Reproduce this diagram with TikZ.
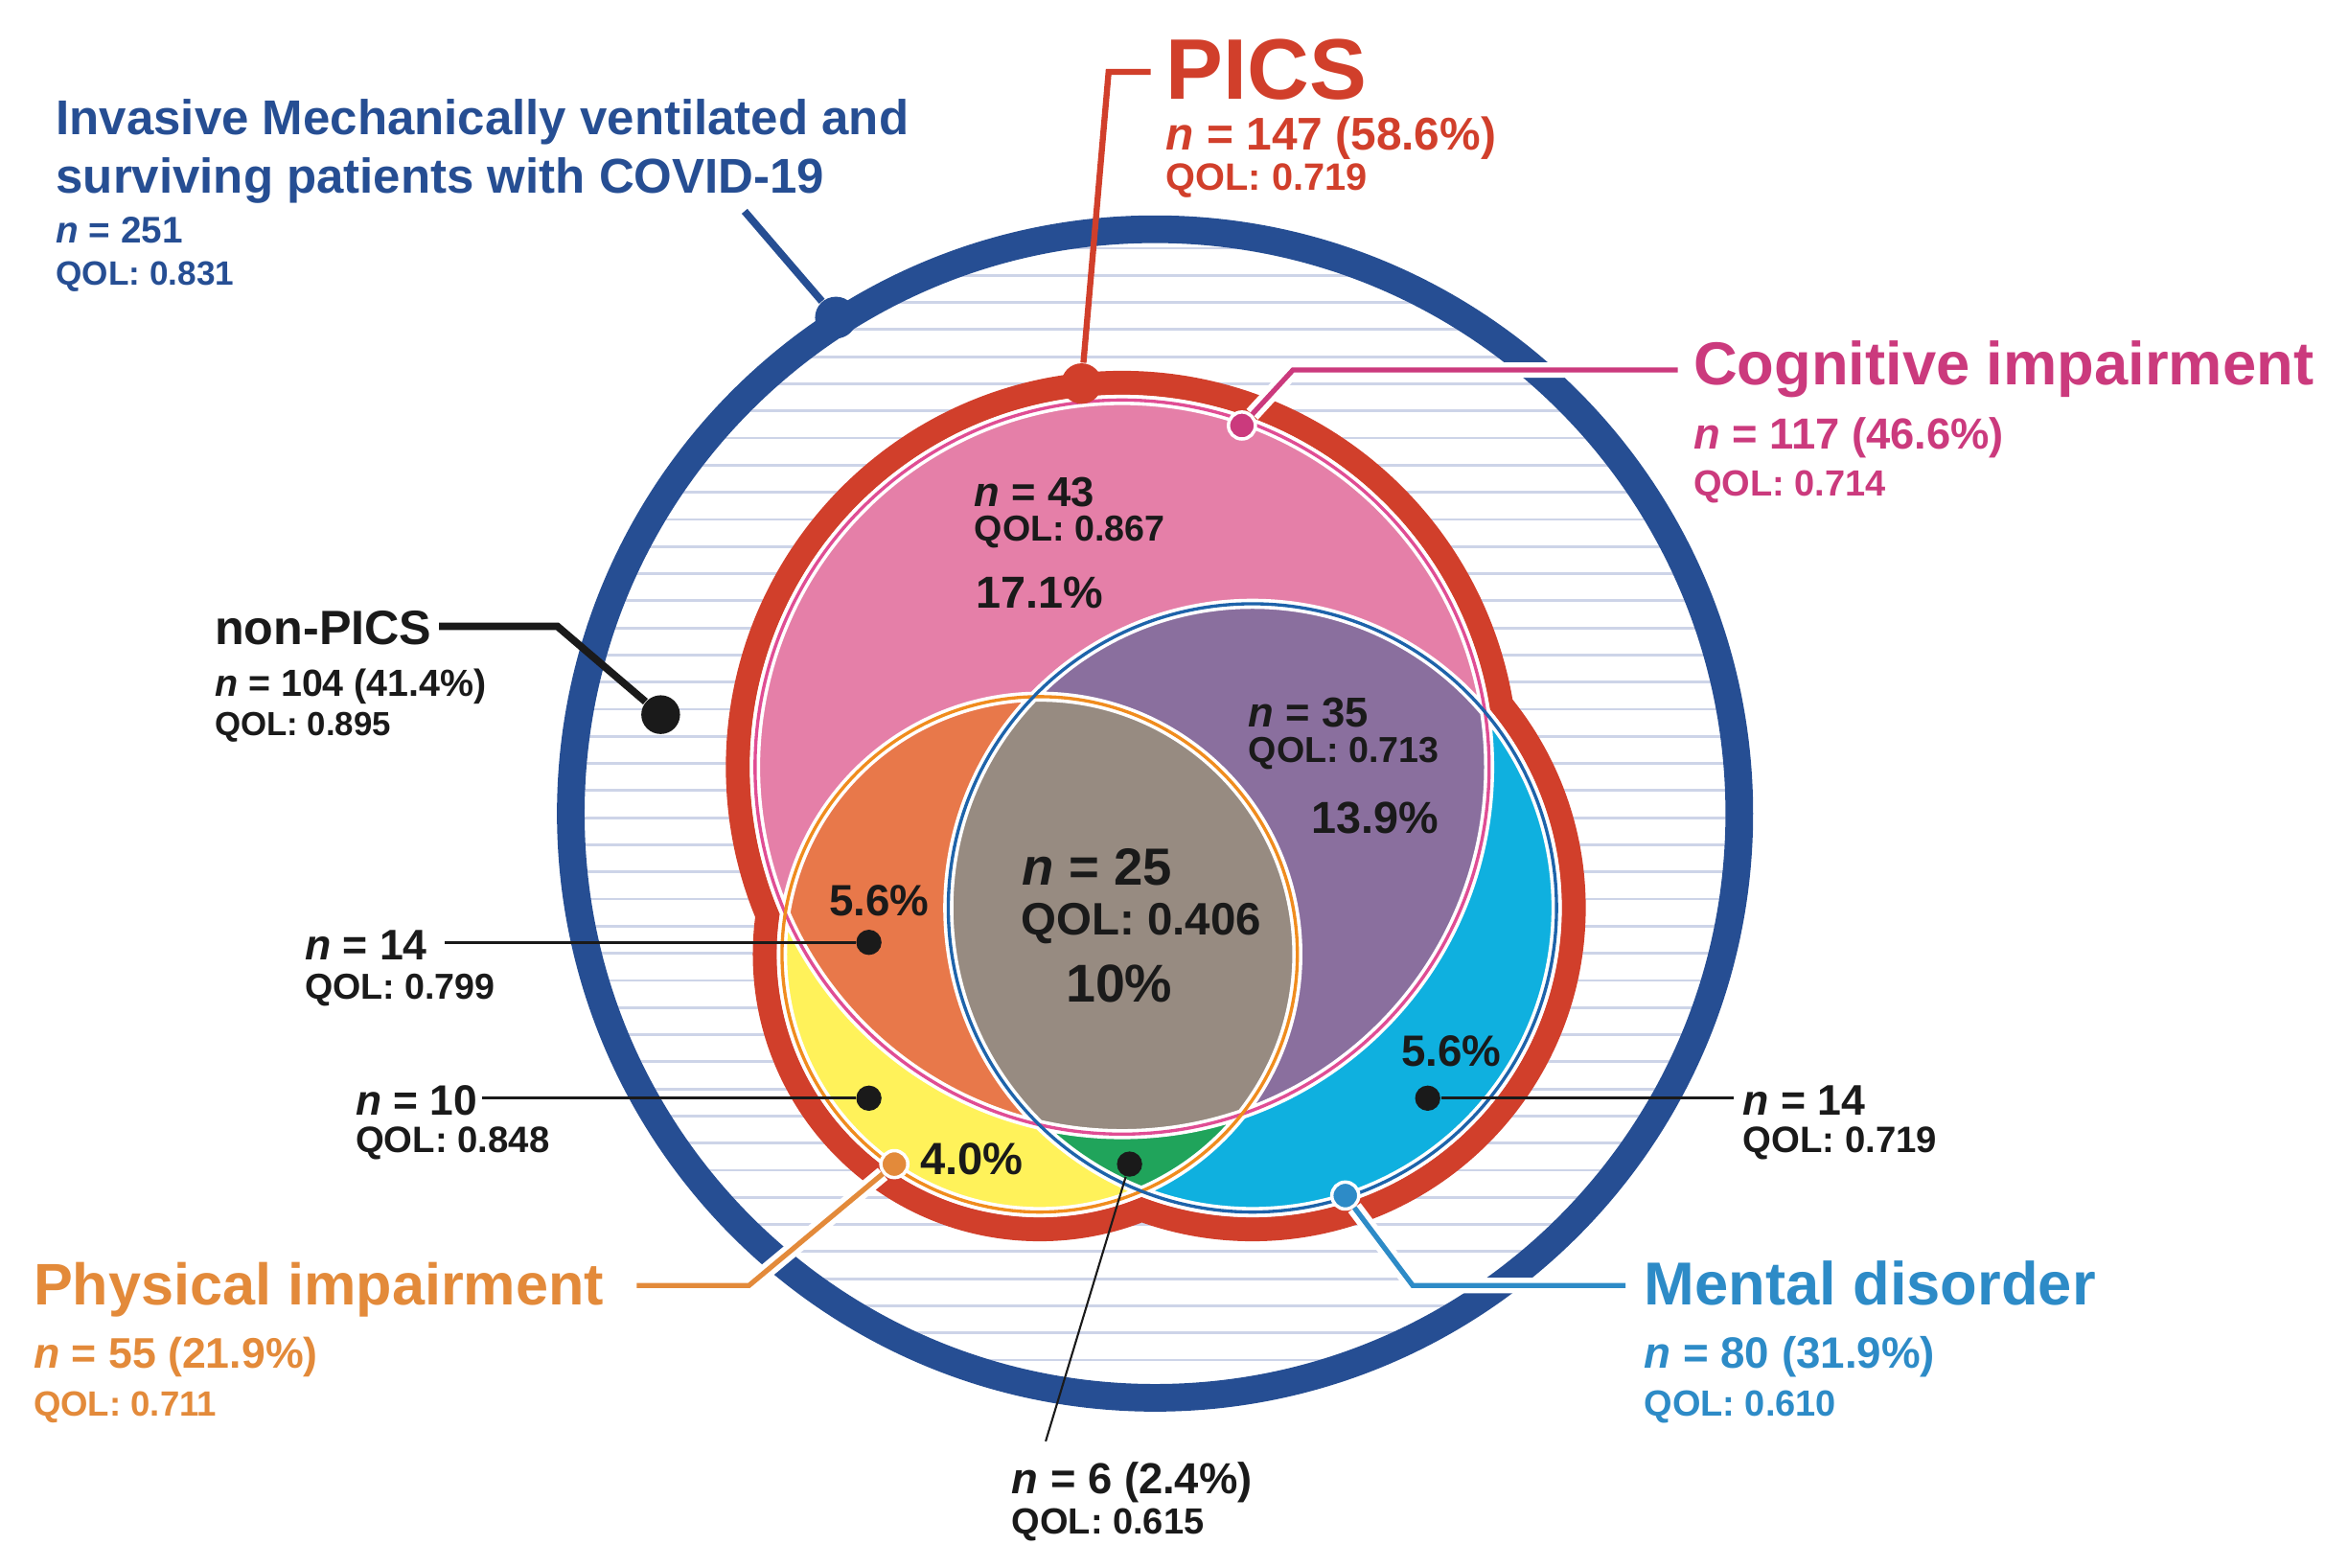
\documentclass[tikz,border=0pt]{standalone}
\usepackage{fontspec}
\setmainfont{Liberation Sans}
\definecolor{navy}{RGB}{38,78,147}
\definecolor{picsred}{RGB}{209,63,43}
\definecolor{cogtxt}{RGB}{203,58,125}
\definecolor{cogline}{RGB}{224,77,148}
\definecolor{cogfill}{RGB}{229,127,168}
\definecolor{phytxt}{RGB}{227,138,58}
\definecolor{phyline}{RGB}{240,140,30}
\definecolor{phyfill}{RGB}{232,120,74}
\definecolor{yel}{RGB}{255,242,90}
\definecolor{mentxt}{RGB}{45,139,199}
\definecolor{menline}{RGB}{30,99,170}
\definecolor{cyanfill}{RGB}{15,176,223}
\definecolor{purp}{RGB}{138,111,158}
\definecolor{taupe}{RGB}{151,139,129}
\definecolor{grn}{RGB}{32,164,91}
\definecolor{hatch}{RGB}{205,212,232}
\definecolor{ink}{RGB}{26,26,26}
\newcommand{\fsz}[1]{\fontsize{#1}{#1}\selectfont}
\newcommand{\rCog}{245}
\newcommand{\rPhy}{172}
\newcommand{\rMen}{203}
\tikzset{
  lbl/.style={anchor=base west, inner sep=0pt},
  sz/.style={font=\fsz{#1}\bfseries},
  dot/.style={circle, inner sep=0pt, fill=#1},
  ringdot/.style={circle, inner sep=0pt, minimum size=8pt, fill=#1, draw=white, line width=1pt},
  halo/.style={preaction={draw=white, line width=#1}},
  thin lead/.style={ink, line width=0.75pt}
}
\begin{document}
\begin{tikzpicture}[x=0.015631cm, y=-0.015631cm]
  \useasboundingbox (0,0) rectangle (1568,1046);
  \coordinate (cO) at (771,543);
  \coordinate (cC) at (749,512);
  \coordinate (cP) at (694,637);
  \coordinate (cM) at (836,606);

  %HATCHING
  \begin{scope}
    \clip (cO) circle[radius=381];
    \foreach \k in {-4,...,40}
      \draw[hatch, line width=0.8pt] (350,{220+18.1*\k}) -- (1200,{220+18.1*\k});
  \end{scope}

  %PICS BAND
  \fill[picsred] (cC) circle[radius=\rCog+19.5] (cP) circle[radius=\rPhy+19.5] (cM) circle[radius=\rMen+19.5];
  \fill[white] (cC) circle[radius=\rCog+3.5] (cP) circle[radius=\rPhy+3.5] (cM) circle[radius=\rMen+3.5];

  %VENN REGIONS
  \fill[cogfill] (cC) circle[radius=\rCog];
  \fill[yel] (cP) circle[radius=\rPhy];
  \begin{scope}
    \clip (cC) circle[radius=\rCog];
    \fill[phyfill] (cP) circle[radius=\rPhy];
  \end{scope}
  \fill[cyanfill] (cM) circle[radius=\rMen];
  \begin{scope}
    \clip (cC) circle[radius=\rCog];
    \fill[purp] (cM) circle[radius=\rMen];
  \end{scope}
  \begin{scope}
    \clip (cP) circle[radius=\rPhy];
    \fill[grn] (cM) circle[radius=\rMen];
    \clip (cC) circle[radius=\rCog];
    \fill[taupe] (cM) circle[radius=\rMen];
  \end{scope}

  %OUTLINES
  \draw[white, line width=3pt] (cC) circle[radius=\rCog] (cP) circle[radius=\rPhy] (cM) circle[radius=\rMen];
  \draw[cogline, line width=0.95pt] (cC) circle[radius=\rCog];
  \draw[phyline, line width=0.95pt] (cP) circle[radius=\rPhy];
  \draw[menline, line width=0.95pt] (cM) circle[radius=\rMen];

  %OUTER RING
  \draw[navy, line width=8.2pt] (cO) circle[radius=390];

  %TITLE
  \node[lbl, navy, sz=14.5] (ttl1) at (37,89.6) {Invasive Mechanically ventilated and};
  \node[lbl, navy, sz=14.5] (ttl2) at (37,129) {surviving patients with COVID-19};
  \node[lbl, navy, sz=11] (ttln) at (37,162) {\textit{n} = 251};
  \node[lbl, navy, sz=10] (ttlq) at (37,190) {QOL: 0.831};
  \coordinate (ttlend) at (497,141);
  \node[dot=navy, minimum size=12.4pt] (ttldot) at (558,212) {};
  \draw[navy, line width=2.2pt] (ttlend) -- (ttldot);

  %PICS
  \node[lbl, picsred, sz=25.5] (pics) at (778,66) {PICS};
  \node[lbl, picsred, sz=13.6] (picsn) at (778,100) {\textit{n} = 147 (58.6\%)};
  \node[lbl, picsred, sz=11.3] (picsq) at (778,127) {QOL: 0.719};
  \coordinate (picsend) at (768,48);
  \coordinate (picsbend) at (740,48);
  \node[dot=picsred, minimum size=12pt] (picsdot) at (722,256) {};
  \draw[picsred, line width=1.8pt] (picsend) -- (picsbend) -- (picsdot);

  %COGNITIVE
  \node[lbl, cogtxt, sz=18] (cog) at (1130,257) {Cognitive impairment};
  \node[lbl, cogtxt, sz=12.9] (cogn) at (1130,300) {\textit{n} = 117 (46.6\%)};
  \node[lbl, cogtxt, sz=10.8] (cogq) at (1130,331) {QOL: 0.714};
  \coordinate (cogend) at (1120,247);
  \coordinate (cogbend) at (863,247);
  \node[ringdot=cogtxt] (cogdot) at (829,284) {};
  \draw[cogtxt, line width=1.5pt, halo=4.6pt] (cogend) -- (cogbend) -- (cogdot);

  %NON-PICS
  \node[lbl, ink, sz=14.3] (np) at (143,430) {non-PICS};
  \node[lbl, ink, sz=11.2] (npn) at (143,465) {\textit{n} = 104 (41.4\%)};
  \node[lbl, ink, sz=9.9] (npq) at (143,491) {QOL: 0.895};
  \coordinate (npend) at (293,418);
  \coordinate (npbend) at (372,418);
  \node[dot=ink, minimum size=11.5pt] (npdot) at (441,477) {};
  \draw[ink, line width=2.2pt] (npend) -- (npbend) -- (npdot);

  %REGION LABELS
  \node[lbl, ink, sz=12.4] (r43) at (650,338) {\textit{n} = 43};
  \node[lbl, ink, sz=10.7] (r43q) at (650,361) {QOL: 0.867};
  \node[lbl, ink, sz=13.3] (r43p) at (651,406) {17.1\%};
  \node[lbl, ink, sz=12.4] (r35) at (833,485) {\textit{n} = 35};
  \node[lbl, ink, sz=10.7] (r35q) at (833,509) {QOL: 0.713};
  \node[lbl, ink, sz=13.3] (r35p) at (875,556) {13.9\%};
  \node[lbl, ink, sz=15.5] (r25) at (682,591) {\textit{n} = 25};
  \node[lbl, ink, sz=13.5] (r25q) at (681,624) {QOL: 0.406};
  \node[lbl, ink, sz=15.8] (r25p) at (711,669) {10\%};
  \node[lbl, ink, sz=13] (rphc) at (553,611) {5.6\%};
  \node[lbl, ink, sz=13] (rmen) at (935,712) {5.6\%};
  \node[lbl, ink, sz=13.4] (rphy) at (614,784) {4.0\%};

  %SIDE COUNTS
  \node[lbl, ink, sz=12.7] (n14l) at (203,641) {\textit{n} = 14};
  \node[lbl, ink, sz=10.7] (n14lq) at (203,667) {QOL: 0.799};
  \coordinate (n14lend) at (297,629);
  \node[dot=ink, minimum size=7.5pt] (d14l) at (580,629) {};
  \draw[thin lead] (n14lend) -- (d14l);

  \node[lbl, ink, sz=12.6] (n10) at (237,744) {\textit{n} = 10};
  \node[lbl, ink, sz=10.9] (n10q) at (237,769) {QOL: 0.848};
  \coordinate (n10end) at (322,733);
  \node[dot=ink, minimum size=7.5pt] (d10) at (580,733) {};
  \draw[thin lead] (n10end) -- (d10);

  \node[lbl, ink, sz=12.7] (n14r) at (1163,744) {\textit{n} = 14};
  \node[lbl, ink, sz=10.9] (n14rq) at (1163,769) {QOL: 0.719};
  \coordinate (n14rend) at (1157,733);
  \node[dot=ink, minimum size=7.5pt] (d14r) at (953,733) {};
  \draw[thin lead] (d14r) -- (n14rend);

  \node[lbl, ink, sz=12.9] (n6) at (675,997) {\textit{n} = 6 (2.4\%)};
  \node[lbl, ink, sz=10.8] (n6q) at (675,1024) {QOL: 0.615};
  \coordinate (n6end) at (698,962);
  \node[dot=ink, minimum size=7.5pt] (d6) at (754,777) {};
  \draw[ink, line width=0.6pt] (d6) -- (n6end);

  %PHYSICAL
  \node[lbl, phytxt, sz=17.4] (phy) at (22,871) {Physical impairment};
  \node[lbl, phytxt, sz=12.7] (phyn) at (22,913) {\textit{n} = 55 (21.9\%)};
  \node[lbl, phytxt, sz=10.4] (phyq) at (22,945) {QOL: 0.711};
  \coordinate (phyend) at (425,858);
  \coordinate (phybend) at (500,858);
  \node[ringdot=phytxt] (phydot) at (597,777) {};
  \draw[phytxt, line width=1.5pt, halo=4.6pt] (phyend) -- (phybend) -- (phydot);

  %MENTAL
  \node[lbl, mentxt, sz=18] (men) at (1097,871) {Mental disorder};
  \node[lbl, mentxt, sz=13] (menn) at (1097,913) {\textit{n} = 80 (31.9\%)};
  \node[lbl, mentxt, sz=10.8] (menq) at (1097,945) {QOL: 0.610};
  \coordinate (menend) at (1085,858);
  \coordinate (menbend) at (943,858);
  \node[ringdot=mentxt] (mendot) at (898,798) {};
  \draw[mentxt, line width=1.5pt, halo=4.6pt] (menend) -- (menbend) -- (mendot);
\end{tikzpicture}
\end{document}
